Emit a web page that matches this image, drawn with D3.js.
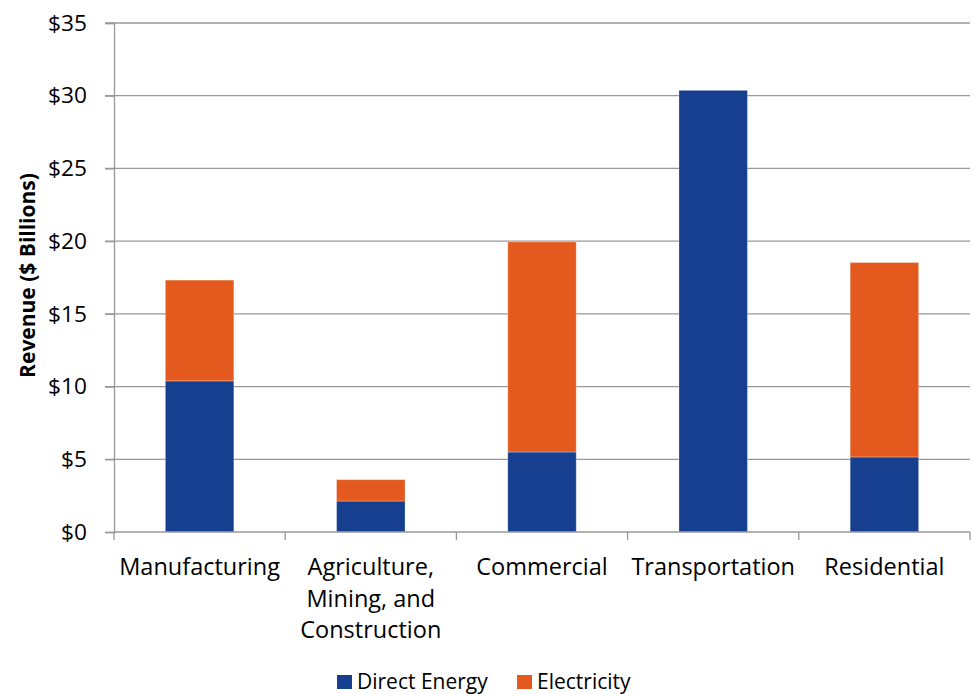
<!DOCTYPE html>
<html>
<head>
<meta charset="utf-8">
<script src="https://cdn.jsdelivr.net/npm/d3@7"></script>
<style>
  html, body { margin: 0; padding: 0; background: #fff; }
  svg { display: block; font-family: "Open Sans", sans-serif; }
</style>
</head>
<body>
<svg id="chart" width="973" height="694"></svg>
<script>
// ---- Data ----
const categories = [["Manufacturing"], ["Agriculture,", "Mining, and", "Construction"], ["Commercial"], ["Transportation"], ["Residential"]];
const categoryKeys = ["Manufacturing", "Agriculture, Mining, and Construction", "Commercial", "Transportation", "Residential"];
const directEnergy = [10.39, 2.13, 5.5, 30.37, 5.16];
const electricity = [6.93, 1.47, 14.45, 0, 13.37];
const seriesNames = ["Direct Energy", "Electricity"];
const seriesColors = ["#163F90", "#E4591E"];
const yTicks = [0, 5, 10, 15, 20, 25, 30, 35];

// ---- Layout ----
const W = 973, H = 694;
const plot = { left: 114, right: 970, top: 23, bottom: 532 };
const svg = d3.select("#chart");

const x = d3.scaleBand().domain(categoryKeys).range([plot.left, plot.right]).paddingInner(0.6).paddingOuter(0.3);
const y = d3.scaleLinear().domain([0, 35]).range([plot.bottom, plot.top]);

const rows = categoryKeys.map((k, i) => ({ key: k, "Direct Energy": directEnergy[i], "Electricity": electricity[i] }));
const stack = d3.stack().keys(seriesNames)(rows);

// gridlines
svg.append("g").selectAll("line").data(yTicks.filter(d => d > 0)).join("line")
  .attr("x1", plot.left - 9).attr("x2", plot.right)
  .attr("y1", d => y(d)).attr("y2", d => y(d))
  .attr("stroke", "#989898").attr("stroke-width", 1.3);

// bars
svg.append("g").selectAll("g").data(stack).join("g")
  .attr("fill", (d, i) => seriesColors[i])
  .selectAll("rect").data(d => d.filter(p => p[1] - p[0] > 0)).join("rect")
  .attr("x", d => x(d.data.key))
  .attr("width", x.bandwidth())
  .attr("y", d => y(d[1]))
  .attr("height", d => y(d[0]) - y(d[1]))
  .attr("stroke", "rgba(255,255,255,0.3)").attr("stroke-width", 1);

// y axis
const yAxis = d3.axisLeft(y).tickValues(yTicks).tickFormat(d => "$" + d).tickSize(9).tickPadding(18);
const gy = svg.append("g").attr("transform", `translate(${plot.left},0)`).call(yAxis);
gy.select(".domain").attr("stroke", "#989898").attr("stroke-width", 1.3);
gy.selectAll(".tick line").attr("stroke", "#989898").attr("stroke-width", 1.3);
gy.selectAll(".tick text").attr("font-size", 22.7).attr("fill", "#000").attr("font-family", "Open Sans");

// x axis
const gx = svg.append("g").attr("transform", `translate(0,${plot.bottom})`);
gx.append("line").attr("x1", plot.left).attr("x2", plot.right).attr("y1", 0).attr("y2", 0)
  .attr("stroke", "#989898").attr("stroke-width", 1.3);
const step = x.step();
const bounds = d3.range(categoryKeys.length + 1).map(i => i === 0 ? plot.left : x(categoryKeys[i - 1]) + x.bandwidth() + (step - x.bandwidth()) / 2);
gx.selectAll("line.tk").data(bounds).join("line").attr("class", "tk")
  .attr("x1", d => d).attr("x2", d => d).attr("y1", 0).attr("y2", 8)
  .attr("stroke", "#989898").attr("stroke-width", 1.3);
const lab = gx.selectAll("text.cat").data(categoryKeys).join("text").attr("class", "cat")
  .attr("x", d => x(d) + x.bandwidth() / 2)
  .attr("text-anchor", "middle").attr("font-size", 23.5).attr("fill", "#000");
lab.each(function(d, i) {
  d3.select(this).selectAll("tspan").data(categories[i]).join("tspan")
    .attr("x", x(d) + x.bandwidth() / 2)
    .attr("y", (t, j) => 43 + j * 31.5)
    .text(t => t);
});

// y title
svg.append("text")
  .attr("transform", `translate(35,${(168 + 383) / 2}) rotate(-90)`)
  .attr("text-anchor", "middle").attr("font-weight", "bold").attr("font-size", 21).attr("fill", "#000")
  .text("Revenue ($ Billions)");

// legend
const legendX = [337, 517];
const lg = svg.append("g").selectAll("g").data(seriesNames).join("g")
  .attr("transform", (d, i) => `translate(${legendX[i]},675)`);
lg.append("rect").attr("width", 15).attr("height", 14).attr("fill", (d, i) => seriesColors[i]);
lg.append("text").attr("x", 20).attr("y", 14).attr("font-size", 21).attr("fill", "#000").text(d => d);
</script>
</body>
</html>
